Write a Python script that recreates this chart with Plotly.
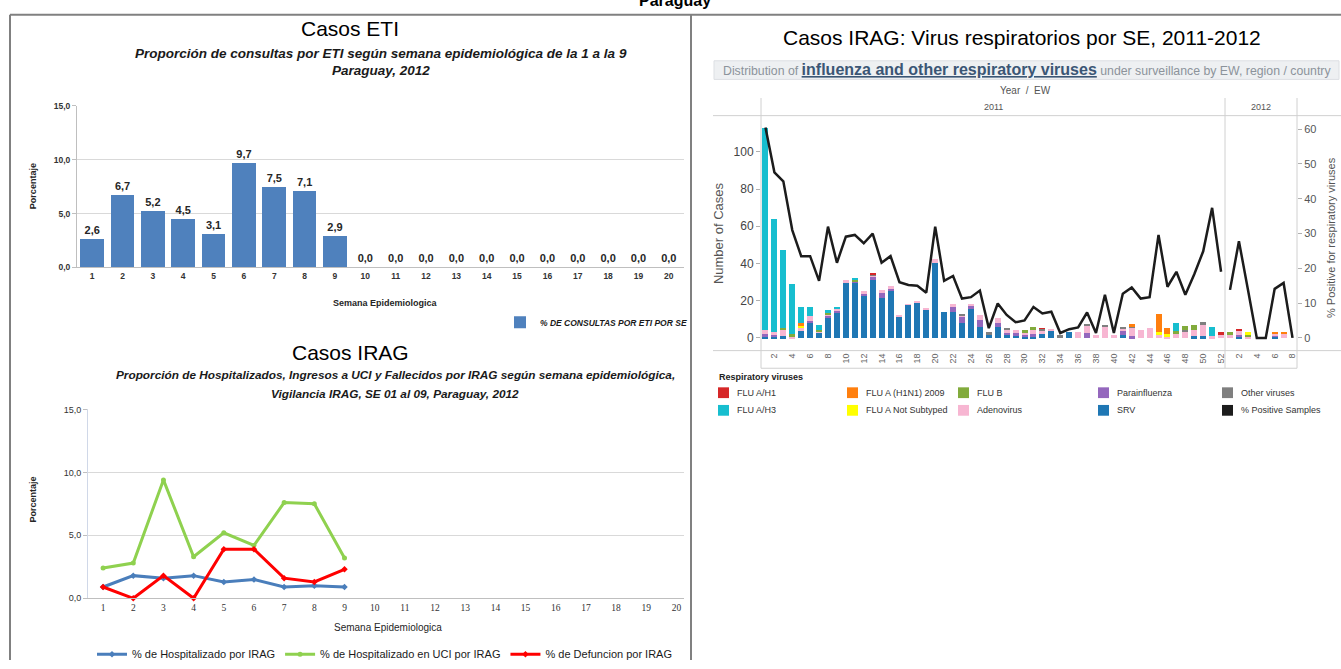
import plotly.graph_objects as go

W, H = 1341, 669


def fx(px):
    return px / W


def fy(py):
    return 1 - py / H


NARROW = "Liberation Sans Narrow, Arial Narrow, Liberation Sans, sans-serif"
ARIAL = "Liberation Sans, Arial, Helvetica, sans-serif"
SERIF = "Liberation Serif, Times New Roman, serif"

# ---------------- Casos ETI ----------------
eti_weeks = list(range(1, 21))
eti_pct = [2.6, 6.7, 5.2, 4.5, 3.1, 9.7, 7.5, 7.1, 2.9, 0.0,
           0.0, 0.0, 0.0, 0.0, 0.0, 0.0, 0.0, 0.0, 0.0, 0.0]

# ---------------- Casos IRAG ----------------
irag_weeks = [1, 2, 3, 4, 5, 6, 7, 8, 9]
hosp_pct = [0.9, 1.8, 1.6, 1.8, 1.3, 1.5, 0.9, 1.0, 0.9]
uci_pct = [2.4, 2.8, 9.4, 3.3, 5.2, 4.2, 7.6, 7.5, 3.2]
defun_pct = [0.9, 0.0, 1.8, 0.0, 3.9, 3.9, 1.6, 1.3, 2.3]

# ---------------- Virus respiratorios por SE ----------------
ew_2011 = list(range(1, 53))
ew_2012 = list(range(1, 9))

# cases per EW (52 weeks of 2011 followed by 8 weeks of 2012)
srv = [1, 1, 1, 0, 3.5, 8.5, 3, 11, 14, 30, 30, 23, 31.5, 21.5, 25, 11, 18, 18.5, 15.5, 40.5,
       14, 14, 8, 16, 6, 2, 6, 2, 1.5, 1, 1, 2, 4, 0, 3, 0, 0, 0, 0, 0,
       1.5, 0, 0, 0, 0, 0, 0, 0, 1, 1, 0, 0,
       0, 1, 0, 0, 0, 1, 0, 0]
parainfluenza = [1, 0.5, 0, 0, 0, 0.5, 0, 1, 1, 0, 0.5, 1, 1, 2.5, 2, 0, 0, 0, 0, 0,
                 0, 2.5, 3.5, 1, 3.5, 0, 2, 1, 1, 1, 1, 0, 0, 0, 0, 0, 2.5, 0, 0, 0,
                 2, 1, 0, 0, 0, 0, 0, 0, 0, 0, 0, 0,
                 0, 0.5, 0, 0, 0, 0.5, 0, 0]
adenovirus = [2, 1.5, 3.5, 1, 2.5, 3, 0.5, 1, 1, 1, 0, 1, 1.5, 2, 1, 1.3, 0.4, 1.5, 0.5, 2,
              0, 1.7, 0.5, 1.2, 2.8, 0, 2.5, 1, 1.5, 1, 2, 2, 1, 0, 0, 3, 4.5, 1.5, 6.5, 1.5,
              1.5, 5, 4.5, 5.5, 2, 1, 2, 3, 3, 6.5, 1, 2,
              1.5, 2.5, 0.5, 0, 0, 1, 2.5, 0]
other_viruses = [0, 0, 0, 0, 0, 0, 0, 0, 0, 0, 0, 0, 0.5, 0, 0, 0, 0, 0, 0, 0,
                 0, 0, 1, 0, 0, 1, 0, 1.3, 0, 0, 0, 1, 0, 1.5, 0, 0, 0.5, 0, 0.5, 0,
                 1, 0.5, 0, 0, 0, 0, 0, 1.5, 0, 1, 0, 0,
                 0, 0, 0, 0, 0, 0, 0, 0]
flu_b = [0, 0, 1, 1, 0, 0, 1, 0.5, 0, 0, 1, 0, 0, 0, 0, 0, 0, 0, 0, 0,
         0, 0, 0, 0, 0, 0, 0, 0, 0, 1, 2, 0, 0, 0, 0, 0, 0, 0, 0, 0,
         0, 0, 0, 0, 0, 0, 1.5, 2, 3, 0, 0, 0,
         1.5, 0, 1.5, 0, 0, 0, 0, 0]
flu_a_not_subtyped = [0, 0, 0, 0, 1, 0, 0, 0, 0, 0, 0, 0, 0, 0, 0, 0, 0, 0, 0, 0,
                      0, 0, 0, 0, 0, 0, 0, 0, 0, 0, 0, 0, 0, 0, 0, 0, 0, 0, 0, 0,
                      0, 0, 0, 0, 1, 1, 0, 0, 0, 0, 0, 0,
                      0, 0, 1, 0, 0, 0, 0, 0]
flu_h1n1_2009 = [0, 0, 0, 0, 1, 0, 0, 0, 0, 0, 0, 0, 0, 0, 0, 0, 0, 0, 0, 0,
                 0, 0, 0, 0, 0, 0, 0, 0, 0, 0, 0, 0, 0, 0, 0, 0, 0, 0, 0, 0,
                 0, 1, 0, 0, 10, 3.5, 0, 0, 0, 0, 0, 0,
                 0, 0, 0, 0, 0, 0.5, 0.5, 0]
flu_a_h1 = [0, 0, 0, 0, 0, 0, 0, 0, 0, 0, 0, 0, 0.5, 0, 0, 0, 0, 0, 0, 0,
            0, 0, 0, 0, 0, 0, 0, 0, 0, 0, 0, 0.5, 0, 0, 0, 0, 0, 0, 0, 0,
            0, 0, 0, 0, 0, 0, 0, 0, 0, 0, 0, 1,
            0, 1, 0, 0, 0, 0, 0, 0]
flu_a_h3 = [109, 61, 42, 27, 8.7, 4.7, 2.5, 1.5, 0.5, 0, 0.5, 0, 0, 0, 0, 0, 0, 0, 0, 0,
            0, 0, 0, 0, 0, 0, 0, 0, 0, 0, 0, 0, 0, 0, 0, 0, 0, 0, 0, 0,
            0, 0, 0, 0, 0, 0, 4.5, 0, 0, 0, 5, 0,
            0, 0, 0, 0, 0, 0, 0, 0]

pos_2011 = [60.5, 47.6, 45, 31, 23.5, 23.5, 16.4, 32, 21.6, 29.1, 29.6, 27.2, 30, 21.6, 23.5,
            16, 15.2, 15, 13, 32, 16.4, 17.8, 11.3, 11.7, 13.6, 2.8, 9.9, 6.6, 4.5, 5.0,
            8.9, 7.0, 7.5, 1.4, 2.5, 3.0, 7.3, 1.4, 12.4, 1.4, 12.7, 14.5, 11.3, 11.7, 29.6,
            14.7, 19, 12.4, 18.3, 24.9, 37.4, 19]
pos_2012 = [13.8, 27.8, 14, 0, 0, 14.1, 15.8, 0]

virus_series = [
    ("SRV", srv, "#1f77b4"),
    ("Parainfluenza", parainfluenza, "#9467bd"),
    ("Adenovirus", adenovirus, "#f7b6d2"),
    ("Other viruses", other_viruses, "#7f7f7f"),
    ("FLU B", flu_b, "#82ab3c"),
    ("FLU A Not Subtyped", flu_a_not_subtyped, "#ffff00"),
    ("FLU A (H1N1) 2009", flu_h1n1_2009, "#ff7f0e"),
    ("FLU A/H1", flu_a_h1, "#d62728"),
    ("FLU A/H3", flu_a_h3, "#17becf"),
]
legend_rows = [["FLU A/H1", "FLU A (H1N1) 2009", "FLU B", "Parainfluenza", "Other viruses"],
               ["FLU A/H3", "FLU A Not Subtyped", "Adenovirus", "SRV", "% Positive Samples"]]
swatch = {name: col for name, _, col in virus_series}
swatch["% Positive Samples"] = "#1c1c1c"

ew_index = list(range(len(ew_2011) + len(ew_2012)))
ew_labels = [str(w) for w in ew_2011 + ew_2012]

fig = go.Figure()

# ETI bars
fig.add_trace(go.Bar(
    x=eti_weeks, y=eti_pct, name="% DE CONSULTAS POR ETI POR SE",
    marker=dict(color="#4F81BD", line=dict(width=0)), width=0.78,
    texttemplate="<b>%{y:.1f}</b>", textposition="outside", cliponaxis=False,
    textfont=dict(family=NARROW, size=11, color="#262626"),
    xaxis="x", yaxis="y", legend="legend"))

# IRAG lines
for vals, name, col, sym in [(hosp_pct, "% de Hospitalizado por IRAG", "#4A7EBB", "diamond"),
                             (uci_pct, "% de Hospitalizado en UCI por IRAG", "#8fd14f", "circle"),
                             (defun_pct, "% de Defuncion por IRAG", "#ff0000", "diamond")]:
    fig.add_trace(go.Scatter(
        x=irag_weeks, y=vals, name=name, mode="lines+markers",
        line=dict(color=col, width=3), marker=dict(color=col, size=5, symbol=sym),
        xaxis="x2", yaxis="y2", legend="legend2", cliponaxis=False))

# respiratory virus stacked bars
for name, vals, col in virus_series:
    fig.add_trace(go.Bar(
        x=ew_index, y=vals, name=name, marker=dict(color=col, line=dict(width=0)),
        xaxis="x3", yaxis="y3", showlegend=False))

# % positive line (broken between years)
fig.add_trace(go.Scatter(x=ew_index[:len(ew_2011)], y=pos_2011, mode="lines",
                         line=dict(color="#1c1c1c", width=2.5), xaxis="x3", yaxis="y4",
                         showlegend=False, cliponaxis=False))
fig.add_trace(go.Scatter(x=ew_index[len(ew_2011):], y=pos_2012, mode="lines",
                         line=dict(color="#1c1c1c", width=2.5), xaxis="x3", yaxis="y4",
                         showlegend=False, cliponaxis=False))


def ann(text, px, py, size, family=ARIAL, color="#000000", xanchor="center",
        yanchor="middle", angle=0):
    return dict(text=text, x=fx(px), y=fy(py), xref="paper", yref="paper", showarrow=False,
                font=dict(family=family, size=size, color=color), xanchor=xanchor,
                yanchor=yanchor, textangle=angle)


def hline(x0, x1, y, color="#d0d0d0", width=1):
    return dict(type="line", xref="paper", yref="paper", x0=fx(x0), x1=fx(x1), y0=fy(y), y1=fy(y),
                line=dict(color=color, width=width))


def vline(x, y0, y1, color="#d0d0d0", width=1):
    return dict(type="line", xref="paper", yref="paper", x0=fx(x), x1=fx(x), y0=fy(y0), y1=fy(y1),
                line=dict(color=color, width=width))


annotations = [
    ann("<b>Paraguay</b>", 675, 6, 16, yanchor="bottom"),
    ann("Casos ETI", 350, 24, 21),
    ann("<b><i>Proporción de consultas por ETI según semana epidemiológica de la 1 a la 9</i></b>",
        381, 50, 13.5, NARROW, "#1a1a1a"),
    ann("<b><i>Paraguay, 2012</i></b>", 381, 67, 13.5, NARROW, "#1a1a1a"),
    ann("<b>Porcentaje</b>", 33, 185, 9, NARROW, "#262626", angle=-90),
    ann("<b>Semana Epidemiologica</b>", 385, 304, 9, NARROW, "#262626"),
    ann("Casos IRAG", 350, 355, 21),
    ann("<b><i>Proporción de Hospitalizados, Ingresos a UCI y Fallecidos por IRAG según semana epidemiológica,</i></b>",
        395, 378, 11.8, NARROW, "#1a1a1a"),
    ann("<b><i>Vigilancia IRAG, SE 01 al 09, Paraguay, 2012</i></b>", 395, 397, 11.8, NARROW, "#1a1a1a"),
    ann("<b>Porcentaje</b>", 33, 505, 9, NARROW, "#262626", angle=-90),
    ann("Semana Epidemiologica", 388, 636, 10, NARROW, "#262626"),
    ann("Casos IRAG: Virus respiratorios por SE, 2011-2012", 1022, 33, 21),
    ann("Distribution of <span style='font-size:16px;color:#3b5675'><b><u>influenza and other respiratory viruses</u></b></span>"
        " under surveillance by EW, region / country", 1027, 66, 12.3, ARIAL, "#8c939b"),
    ann("Year  /  EW", 1025, 87, 10, ARIAL, "#555555"),
    ann("2011", 993, 104, 9, ARIAL, "#555555"),
    ann("2012", 1261, 104, 9, ARIAL, "#555555"),
    ann("Number of Cases", 718, 233, 13, ARIAL, "#555555", angle=-90),
    ann("% Positive for respiratory viruses", 1331, 238, 11, ARIAL, "#555555", angle=-90),
    ann("<b>Respiratory viruses</b>", 717, 380, 9, ARIAL, "#222222", xanchor="left"),
]

shapes = [
    # table borders
    hline(10, 1341, 10, "#808080", 2),
    vline(10, 10, 669, "#808080", 2),
    vline(691, 10, 669, "#808080", 2),
    # header strip of the virus chart
    dict(type="rect", xref="paper", yref="paper", x0=fx(714), x1=fx(1339), y0=fy(76), y1=fy(57),
         fillcolor="#eef0f2", line=dict(color="#dcdfe3", width=1), layer="below"),
    hline(713, 1341, 113),
    hline(713, 1341, 353),
    hline(761, 1297, 371),
    vline(761, 95, 371),
    vline(1225, 95, 371),
    vline(1297, 95, 371),
]

legend_cols = [718, 847, 958, 1098, 1222]
legend_ys = [396, 414]
for r, row in enumerate(legend_rows):
    for c, name in enumerate(row):
        x0, yc = legend_cols[c], legend_ys[r]
        shapes.append(dict(type="rect", xref="paper", yref="paper", x0=fx(x0), x1=fx(x0 + 11),
                           y0=fy(yc + 5.5), y1=fy(yc - 5.5), fillcolor=swatch[name],
                           line=dict(width=0)))
        annotations.append(ann(name, x0 + 17, yc, 9, ARIAL, "#333333", xanchor="left"))

tick_small = dict(family=NARROW, size=8.5, color="#333333", weight="bold")

fig.update_layout(
    width=W, height=H, margin=dict(l=0, r=0, t=0, b=0),
    paper_bgcolor="white", plot_bgcolor="white",
    separators=",.", barmode="stack", bargap=0.33,
    font=dict(family=ARIAL, color="#333333"),
    annotations=annotations, shapes=shapes,
    xaxis=dict(domain=[fx(77), fx(684)], range=[0.5, 20.5], anchor="y", tickvals=eti_weeks,
               showline=True, linecolor="#bfbfbf", ticks="", tickfont=tick_small,
               showgrid=False, zeroline=False, fixedrange=True),
    yaxis=dict(domain=[fy(268), fy(103)], range=[0, 15], anchor="x", tickvals=[0, 5, 10, 15],
               tickformat=".1f", showline=True, linecolor="#bfbfbf", ticks="outside", ticklen=4,
               tickcolor="#bfbfbf", gridcolor="#d9d9d9", zeroline=False, tickfont=tick_small),
    xaxis2=dict(domain=[fx(88), fx(684)], range=[0.5, 20.25], anchor="y2",
                tickvals=list(range(1, 21)), showline=True, linecolor="#bfbfbf", ticks="",
                tickfont=dict(family=SERIF, size=9.5, color="#333333"), showgrid=False,
                zeroline=False),
    yaxis2=dict(domain=[fy(606), fy(413)], range=[0, 15], anchor="x2", tickvals=[0, 5, 10, 15],
                tickformat=".1f", showline=True, linecolor="#d0d8e8", ticks="outside", ticklen=4,
                tickcolor="#bfbfbf", gridcolor="#d9d9d9", zeroline=False,
                tickfont=dict(family=NARROW, size=9, color="#333333")),
    xaxis3=dict(domain=[fx(761), fx(1297)], range=[-0.5, 59.5], anchor="y3",
                tickmode="array", tickvals=ew_index[1::2], ticktext=ew_labels[1::2],
                tickangle=-90, tickfont=dict(family=ARIAL, size=9, color="#666666"),
                showline=False, showgrid=False, zeroline=False, ticks=""),
    yaxis3=dict(domain=[fy(353), fy(113)], range=[-6.84, 119.5], anchor="x3",
                tickvals=[0, 20, 40, 60, 80, 100], showgrid=False, zeroline=False,
                showline=False, ticks="outside", ticklen=4, tickcolor="#b0b0b0",
                tickfont=dict(family=ARIAL, size=12, color="#444444")),
    yaxis4=dict(overlaying="y3", side="right", anchor="x3", range=[-3.66, 63.9],
                tickvals=[0, 10, 20, 30, 40, 50, 60], showgrid=False, zeroline=False,
                showline=False, ticks="outside", ticklen=4, tickcolor="#b0b0b0",
                tickfont=dict(family=ARIAL, size=11, color="#555555")),
    legend=dict(x=fx(500), y=fy(324), xanchor="left", yanchor="middle",
                bgcolor="rgba(0,0,0,0)",
                font=dict(family=NARROW, size=8.5, color="#1a1a1a", weight="bold", style="italic")),
    legend2=dict(x=fx(92), y=fy(663), xanchor="left", yanchor="middle", orientation="h",
                 bgcolor="rgba(0,0,0,0)", font=dict(family=NARROW, size=11, color="#1a1a1a")),
)

# the page body has a default 8px margin; drop it so the figure fills the window
fig.write_html("out.html", config={"displayModeBar": False},
               post_script="document.body.style.margin='0';")
